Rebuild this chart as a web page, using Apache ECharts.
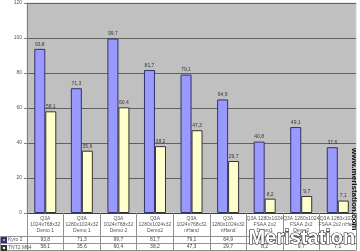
<!DOCTYPE html>
<html><head><meta charset="utf-8">
<script src="https://cdn.jsdelivr.net/npm/echarts@6/dist/echarts.min.js"></script>
<style>html,body{margin:0;padding:0;background:#fff}#c{width:360px;height:251px}</style>
</head><body><div id="c"></div>
<script>
var categories = [
  'Q3A\n1024x768x32\nDemo 1',
  'Q3A\n1280x1024x32\nDemo 1',
  'Q3A\n1024x768x32\nDemo 2',
  'Q3A\n1280x1024x32\nDemo2',
  'Q3A\n1024x768x32\nnHand',
  'Q3A\n1280x1024x32\nnHand',
  'Q3A 1280x1024\nFSAA 2x2\nDemo1',
  'Q3A 1280x1024\nFSAA 2x2\nDemo2',
  'Q3A 1280x1024\nFSAA 2x2 nHand'
];
var seriesNames = ['Kyro 2', 'TNT2 M64'];
var kyro = [93.8, 71.3, 99.7, 81.7, 79.1, 64.9, 40.8, 49.1, 37.6];
var tnt = [58.1, 35.6, 60.4, 38.2, 47.3, 29.7, 8.2, 9.7, 7.1];
var yTicks = {min: 0, max: 120, interval: 20};

function fmt(v){ return String(v.toFixed(1)).replace('.', ','); }

var chart = echarts.init(document.getElementById('c'), null, {renderer: 'canvas'});
var FONT = 'Liberation Sans';
var tableLine = {show: true, lineStyle: {color: '#909090', width: 1}};

chart.setOption({
  animation: false,
  backgroundColor: '#fff',
  textStyle: {fontFamily: FONT},
  grid: {left: 27, right: 2, top: 3, bottom: 38, show: true, backgroundColor: '#c0c0c0', borderColor: '#d8d8d8', borderWidth: 1},
  legend: {
    orient: 'vertical', left: 1, top: 237, itemGap: 2, itemWidth: 4, itemHeight: 4,
    icon: 'rect', padding: 0,
    textStyle: {fontSize: 5, color: '#555', fontFamily: FONT, padding: [0,0,0,-3]},
    data: seriesNames
  },
  xAxis: [
    {type: 'category', data: categories, gridIndex: 0, position: 'bottom',
     axisLine: {show: true, lineStyle: {color: '#404040', width: 1}},
     axisTick: {show: true, length: 37, lineStyle: {color: '#909090'}},
     axisLabel: {fontSize: 5, lineHeight: 6, color: '#555', margin: 3, interval: 0}},
    {type: 'category', data: kyro.map(fmt), gridIndex: 0, position: 'bottom', offset: 23,
     axisLine: tableLine, axisTick: {show: false},
     axisLabel: {fontSize: 5, color: '#444', margin: 1, interval: 0}},
    {type: 'category', data: tnt.map(fmt), gridIndex: 0, position: 'bottom', offset: 30,
     axisLine: tableLine, axisTick: {show: false},
     axisLabel: {fontSize: 5, color: '#444', margin: 1, interval: 0}},
    {type: 'category', data: categories, gridIndex: 0, position: 'bottom', offset: 37,
     axisLine: tableLine, axisTick: {show: false}, axisLabel: {show: false}}
  ],
  yAxis: {
    type: 'value', min: yTicks.min, max: yTicks.max, interval: yTicks.interval,
    axisLine: {show: true, lineStyle: {color: '#808080'}},
    axisTick: {show: true, length: 3, lineStyle: {color: '#808080'}},
    axisLabel: {fontSize: 5, color: '#555', margin: 5},
    splitLine: {show: true, lineStyle: {color: '#606060', width: 1}}
  },
  series: [
    {name: seriesNames[0], type: 'bar', data: kyro, xAxisIndex: 0, barWidth: 11, barGap: '0%',
     itemStyle: {color: '#9999ff', borderColor: '#333366', borderWidth: 1},
     label: {show: true, position: 'top', distance: 2, fontSize: 5, color: '#333', formatter: function(p){return fmt(p.value);}}},
    {name: seriesNames[1], type: 'bar', data: tnt, xAxisIndex: 0, barWidth: 11, barGap: '0%',
     itemStyle: {color: '#ffffcc', borderColor: '#333333', borderWidth: 1},
     label: {show: true, position: 'top', distance: 2, fontSize: 5, color: '#333', formatter: function(p){return fmt(p.value);}}}
  ],
  graphic: [
    {type: 'line', shape: {x1: 0.5, y1: 236.5, x2: 27, y2: 236.5}, style: {stroke: '#909090', lineWidth: 1}},
    {type: 'line', shape: {x1: 0.5, y1: 243.5, x2: 27, y2: 243.5}, style: {stroke: '#909090', lineWidth: 1}},
    {type: 'line', shape: {x1: 0.5, y1: 250.5, x2: 27, y2: 250.5}, style: {stroke: '#909090', lineWidth: 1}},
    {type: 'line', shape: {x1: 0.5, y1: 236.5, x2: 0.5, y2: 251}, style: {stroke: '#909090', lineWidth: 1}},
    {type: 'text', left: 248, top: 228, z: 100,
     style: {text: 'Meristation', fontSize: 20, fontFamily: 'Liberation Sans', fontWeight: 'bold', fill: '#fff', stroke: '#222', lineWidth: 1.2}},
    {type: 'text', x: 358, y: 148, rotation: -Math.PI/2, z: 100,
     style: {text: 'www.meristation.com', fontSize: 8, fontFamily: 'Liberation Sans', fontWeight: 'bold', fill: '#111'}}
  ]
});
</script></body></html>
